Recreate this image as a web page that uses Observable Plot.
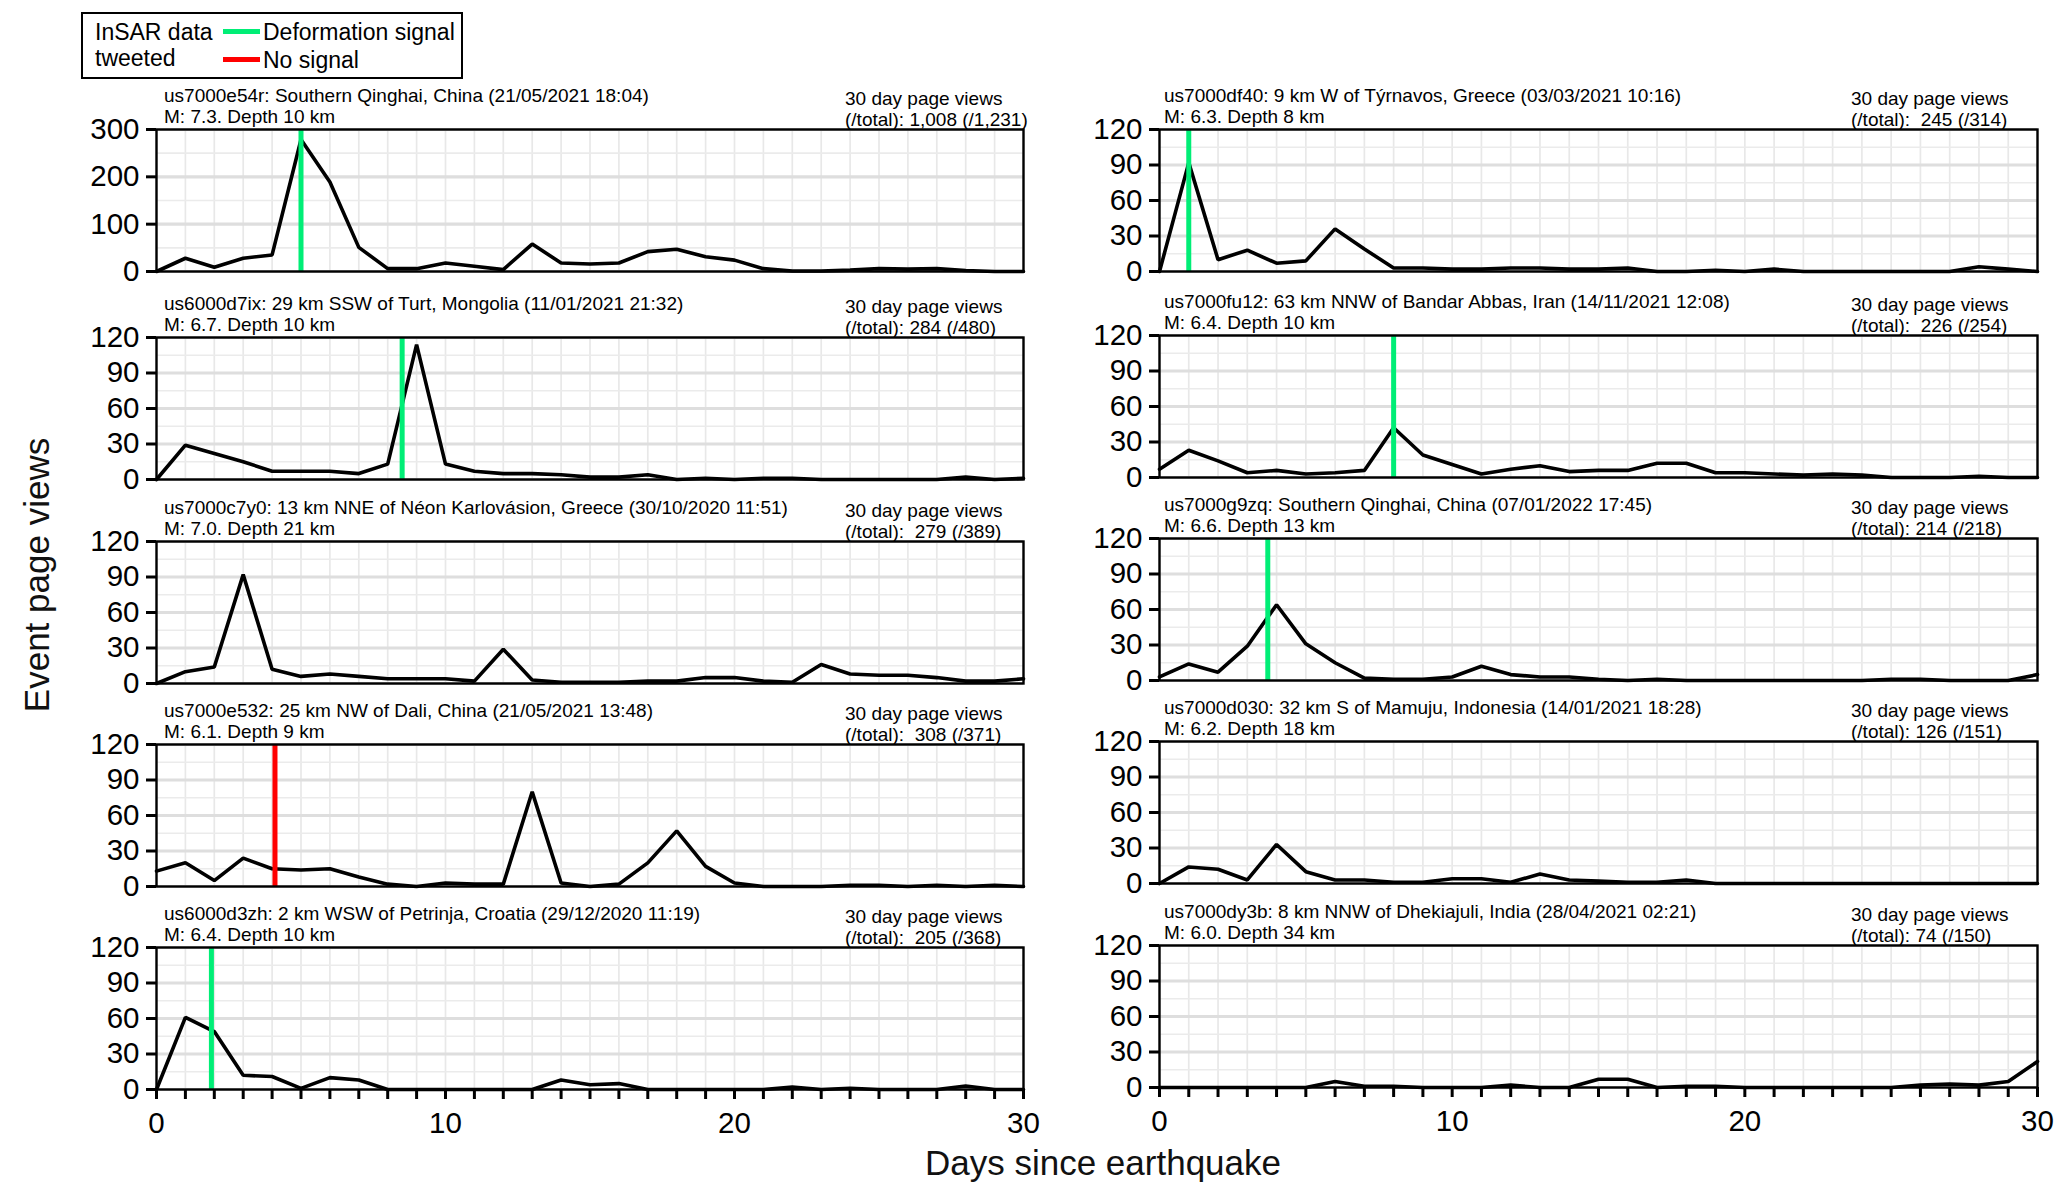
<!DOCTYPE html>
<html><head><meta charset="utf-8">
<script src="https://cdn.jsdelivr.net/npm/d3@7"></script>
<script src="https://cdn.jsdelivr.net/npm/@observablehq/plot@0.6"></script>
<style>
body{margin:0;background:#fff;}
#page{position:relative;width:2067px;height:1195px;overflow:hidden;font-family:"Liberation Sans",Arial,sans-serif;color:#000;background:#fff;}
.abs{position:absolute;white-space:pre;}
.hdr{font-size:19px;line-height:21px;}
</style></head><body><div id="page"></div>
<script>
// ---------- DATA ----------
const days = d3.range(0, 31);
const yTicks120 = [0, 30, 60, 90, 120];
const yMinor120 = [15, 45, 75, 105];
const yTicks300 = [0, 100, 200, 300];
const yMinor300 = [50, 150, 250];
const xTickLabels = [0, 10, 20, 30];

const v_us7000e54r = [0,28,9,28,35,279,189,51,6,6,18,11,4,58,18,16,18,42,47,31,24,6,1,1,3,6,5,6,2,0,0];
const v_us6000d7ix = [0,29,22,15,7,7,7,5,13,114,13,7,5,5,4,2,2,4,0,1,0,1,1,0,0,0,0,0,2,0,1];
const v_us7000c7y0 = [0,10,14,92,12,6,8,6,4,4,4,2,29,3,1,1,1,2,2,5,5,2,1,16,8,7,7,5,2,2,4];
const v_us7000e532 = [13,20,5,24,15,14,15,8,2,0,3,2,2,80,3,0,2,20,47,17,3,0,0,0,1,1,0,1,0,1,0];
const v_us6000d3zh = [0,61,49,12,11,1,10,8,0,0,0,0,0,0,8,4,5,0,0,0,0,0,2,0,1,0,0,0,3,0,0];
const v_us7000df40 = [0,92,10,18,7,9,36,19,3,3,2,2,3,3,2,2,3,0,0,1,0,2,0,0,0,0,0,0,4,2,0];
const v_us7000fu12 = [7,23,14,4,6,3,4,6,42,19,11,3,7,10,5,6,6,12,12,4,4,3,2,3,2,0,0,0,1,0,0];
const v_us7000g9zq = [3,14,7,29,64,31,15,2,1,1,3,12,5,3,3,1,0,1,0,0,0,0,0,0,0,1,1,0,0,0,5];
const v_us7000d030 = [0,14,12,3,33,10,3,3,1,1,4,4,1,8,3,2,1,1,3,0,0,0,0,0,0,0,0,0,0,0,0];
const v_us7000dy3b = [0,0,0,0,0,0,5,1,1,0,0,0,2,0,0,7,7,0,1,1,0,0,0,0,0,0,2,3,2,5,22];

const panelViews = [v_us7000e54r, v_us6000d7ix, v_us7000c7y0, v_us7000e532, v_us6000d3zh,
                    v_us7000df40, v_us7000fu12, v_us7000g9zq, v_us7000d030, v_us7000dy3b];
const panelTitles = [
  "us7000e54r: Southern Qinghai, China (21/05/2021 18:04)",
  "us6000d7ix: 29 km SSW of Turt, Mongolia (11/01/2021 21:32)",
  "us7000c7y0: 13 km NNE of Néon Karlovásion, Greece (30/10/2020 11:51)",
  "us7000e532: 25 km NW of Dali, China (21/05/2021 13:48)",
  "us6000d3zh: 2 km WSW of Petrinja, Croatia (29/12/2020 11:19)",
  "us7000df40: 9 km W of Týrnavos, Greece (03/03/2021 10:16)",
  "us7000fu12: 63 km NNW of Bandar Abbas, Iran (14/11/2021 12:08)",
  "us7000g9zq: Southern Qinghai, China (07/01/2022 17:45)",
  "us7000d030: 32 km S of Mamuju, Indonesia (14/01/2021 18:28)",
  "us7000dy3b: 8 km NNW of Dhekiajuli, India (28/04/2021 02:21)"
];
const panelSubtitles = [
  "M: 7.3. Depth 10 km", "M: 6.7. Depth 10 km", "M: 7.0. Depth 21 km", "M: 6.1. Depth 9 km", "M: 6.4. Depth 10 km",
  "M: 6.3. Depth 8 km", "M: 6.4. Depth 10 km", "M: 6.6. Depth 13 km", "M: 6.2. Depth 18 km", "M: 6.0. Depth 34 km"
];
const panelTotals = [
  "(/total): 1,008 (/1,231)", "(/total): 284 (/480)", "(/total):  279 (/389)", "(/total):  308 (/371)", "(/total):  205 (/368)",
  "(/total):  245 (/314)", "(/total):  226 (/254)", "(/total): 214 (/218)", "(/total): 126 (/151)", "(/total): 74 (/150)"
];
const signalDays = [5, 8.5, null, 4.1, 1.9, 1, 8, 3.7, null, null];
const signalKinds = ["Deformation signal", "Deformation signal", null, "No signal", "Deformation signal",
                     "Deformation signal", "Deformation signal", "Deformation signal", null, null];
const legendLabels = ["Deformation signal", "No signal"];
const legendColors = ["#00ee76", "#ff0000"];

// ---------- LAYOUT ----------
const page = document.getElementById("page");
const colLeft = [156, 1159];
const colWidth = [867, 878];
const rowTops = [[129, 337, 541, 744, 947], [129, 335, 538, 741, 945]];
const H = 142;
const FONT = '"Liberation Sans", Arial, sans-serif';

function addDiv(text, cls, css) {
  const d = document.createElement("div");
  d.className = "abs " + (cls || "");
  d.textContent = text;
  Object.assign(d.style, css);
  page.appendChild(d);
  return d;
}

const colorOf = d3.scaleOrdinal(legendLabels, legendColors);

panelViews.forEach((vals, i) => {
  const col = i < 5 ? 0 : 1, row = i % 5;
  const L = colLeft[col], W = colWidth[col], T = rowTops[col][row];
  const bottom = row === 4;
  const mL = 80, mR = 20, mT = 12, mB = bottom ? 70 : 12;
  const big = i === 0;
  const yt = big ? yTicks300 : yTicks120;
  const ym = big ? yMinor300 : yMinor120;
  const data = days.map((d, k) => ({day: d, views: vals[k]}));
  const marks = [
    Plot.ruleX(days, {stroke: "#e8e8e8", strokeWidth: 1.7}),
    Plot.ruleY(ym, {stroke: "#ebebeb", strokeWidth: 1.7}),
    Plot.ruleY(yt, {stroke: "#dedede", strokeWidth: 3.2}),
    Plot.line(data, {x: "day", y: "views", stroke: "black", strokeWidth: 3.6, strokeLinejoin: "miter"})
  ];
  if (signalDays[i] != null) {
    marks.push(Plot.ruleX([signalDays[i]], {stroke: colorOf(signalKinds[i]), strokeWidth: 5}));
  }
  marks.push(Plot.frame({stroke: "black", strokeWidth: 2.4}));
  marks.push(Plot.axisY(yt, {tickSize: 10, tickPadding: 7, strokeWidth: 3, fontSize: 29.5, label: null, tickFormat: d => String(d)}));
  if (bottom) {
    marks.push(Plot.axisX(days, {tickSize: 10, tickPadding: 13, strokeWidth: 3, fontSize: 29.5, label: null,
      tickFormat: d => xTickLabels.includes(d) ? String(d) : ""}));
  }
  const svg = Plot.plot({
    width: W + mL + mR, height: H + mT + mB,
    marginLeft: mL, marginRight: mR, marginTop: mT, marginBottom: mB,
    x: {domain: [0, 30], axis: null, label: null},
    y: {domain: [0, big ? 300 : 120], axis: null, label: null},
    style: {fontFamily: FONT, fontSize: "29.5px", background: "transparent", color: "black", overflow: "visible"},
    marks
  });
  svg.style.position = "absolute";
  svg.style.left = (L - mL) + "px";
  svg.style.top = (T - mT) + "px";
  page.appendChild(svg);

  const tx = L + (col === 0 ? 8 : 5);
  addDiv(panelTitles[i], "hdr", {left: tx + "px", top: (T - 44) + "px"});
  addDiv(panelSubtitles[i], "hdr", {left: tx + "px", top: (T - 23) + "px"});
  const rx = L + (col === 0 ? 689 : 692);
  addDiv("30 day page views", "hdr", {left: rx + "px", top: (T - 41) + "px"});
  addDiv(panelTotals[i], "hdr", {left: rx + "px", top: (T - 20) + "px"});
});

// ---------- LEGEND ----------
const box = document.createElement("div");
Object.assign(box.style, {position: "absolute", left: "81px", top: "12px", width: "382px", height: "67px",
  border: "2px solid black", boxSizing: "border-box", background: "#fff"});
page.appendChild(box);
addDiv("InSAR data", "", {left: "95px", top: "18px", fontSize: "23px", lineHeight: "28px"});
addDiv("tweeted", "", {left: "95px", top: "44px", fontSize: "23px", lineHeight: "28px"});
legendLabels.forEach((lab, k) => {
  const cy = k === 0 ? 32 : 60;
  const sw = document.createElement("div");
  Object.assign(sw.style, {position: "absolute", left: "223px", top: (cy - 3) + "px", width: "37px", height: "5px",
    background: legendColors[k]});
  page.appendChild(sw);
  addDiv(lab, "", {left: "263px", top: (cy - 14) + "px", fontSize: "23px", lineHeight: "28px"});
});

// ---------- AXIS TITLES ----------
addDiv("Days since earthquake", "", {left: "1103px", top: "1163px", fontSize: "35px", lineHeight: "42px",
  transform: "translate(-50%,-50%)", color: "#111"});
addDiv("Event page views", "", {left: "37px", top: "575px", fontSize: "35px", lineHeight: "42px",
  transform: "translate(-50%,-50%) rotate(-90deg)", color: "#111"});
</script>
</body></html>
